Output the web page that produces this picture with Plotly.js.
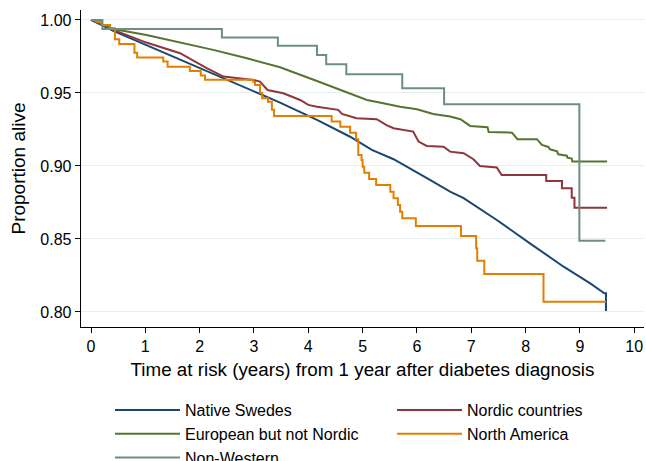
<!DOCTYPE html>
<html><head><meta charset="utf-8">
<script src="https://cdn.plot.ly/plotly-3.0.1.min.js"></script>
<style>html,body{margin:0;padding:0;background:#fff}#chart{width:646px;height:461px}</style>
</head><body><div id="chart"></div>
<script>
const seriesNames = ["Native Swedes", "Nordic countries", "European but not Nordic", "North America", "Non-Western"];
const seriesColors = ["#1a476f", "#90353b", "#55752f", "#e37e00", "#6e8e84"];

const tNative = [0, 0.41, 1.02, 1.64, 2.25, 2.87, 3.48, 4.16, 4.77, 5.17, 5.57, 6.24, 6.61, 6.86, 7.47, 8.08, 8.70, 9.19, 9.37, 9.45, 9.48, 9.48, 9.5];
const sNative = [1.0, 0.9925, 0.9827, 0.9728, 0.963, 0.9532, 0.9434, 0.9315, 0.920, 0.911, 0.9046, 0.8904, 0.8824, 0.8779, 0.863, 0.847, 0.831, 0.8196, 0.815, 0.8128, 0.8128, 0.8014, 0.8014];

const tNordic = [0, 0.41, 1.02, 1.64, 2.13, 2.44, 2.99, 3.11, 3.25, 3.54, 3.85, 4.0, 4.16, 4.55, 4.62, 4.89, 5.26, 5.44, 5.57, 5.93, 6.03, 6.18, 6.49, 6.61, 6.86, 7.04, 7.16, 7.47, 7.56, 8.38, 8.38, 8.67, 8.67, 8.85, 8.85, 8.90, 8.90, 9.5];
const sNordic = [1.0, 0.9932, 0.9845, 0.9772, 0.967, 0.9612, 0.9589, 0.9578, 0.952, 0.9498, 0.9452, 0.9418, 0.9406, 0.9384, 0.9356, 0.9327, 0.932, 0.928, 0.9258, 0.9235, 0.9167, 0.9137, 0.9132, 0.9098, 0.9087, 0.9046, 0.900, 0.899, 0.8938, 0.8938, 0.8897, 0.8897, 0.8847, 0.8847, 0.8783, 0.8783, 0.8714, 0.8714];

const tEurope = [0, 0.41, 1.02, 1.64, 2.25, 2.87, 3.48, 4.16, 4.77, 5.08, 5.38, 5.69, 6.0, 6.30, 6.61, 6.80, 6.98, 7.30, 7.32, 7.75, 7.85, 8.21, 8.30, 8.42, 8.45, 8.58, 8.60, 8.76, 8.77, 8.85, 8.86, 9.5];
const sEurope = [1.0, 0.9938, 0.9897, 0.9847, 0.9795, 0.9737, 0.9676, 0.9582, 0.9498, 0.9452, 0.943, 0.9406, 0.9388, 0.9356, 0.9338, 0.932, 0.9274, 0.9265, 0.9233, 0.9228, 0.9183, 0.9183, 0.9144, 0.913, 0.9114, 0.910, 0.908, 0.907, 0.9057, 0.905, 0.903, 0.903];

const tNorthAm = [0, 0.10, 0.20, 0.35, 0.44, 0.52, 0.80, 0.85, 1.33, 1.41, 1.82, 2.02, 2.10, 2.99, 3.02, 3.11, 3.15, 3.26, 3.33, 3.37, 4.43, 4.59, 4.77, 4.88, 4.92, 4.98, 5.0, 5.03, 5.12, 5.25, 5.51, 5.57, 5.65, 5.69, 5.73, 5.98, 6.81, 7.09, 7.11, 7.24, 8.33, 9.48];
const sNorthAm = [1.0, 0.9988, 0.9966, 0.9943, 0.9868, 0.9836, 0.9776, 0.9742, 0.9715, 0.968, 0.9651, 0.9619, 0.959, 0.9575, 0.9555, 0.9502, 0.9463, 0.944, 0.9384, 0.9342, 0.9304, 0.9269, 0.9228, 0.9183, 0.9075, 0.904, 0.8995, 0.8954, 0.8911, 0.887, 0.8824, 0.8779, 0.8733, 0.8687, 0.8642, 0.8589, 0.852, 0.8436, 0.835, 0.826, 0.807, 0.807];

const tNonWest = [0, 0.21, 2.41, 3.44, 4.16, 4.33, 4.70, 5.73, 6.50, 8.99, 9.47];
const sNonWest = [1.0, 0.9938, 0.988, 0.9824, 0.976, 0.9697, 0.9628, 0.9532, 0.9422, 0.8488, 0.8488];

const xTicks = [0, 1, 2, 3, 4, 5, 6, 7, 8, 9, 10];
const yTicks = [0.80, 0.85, 0.90, 0.95, 1.00];
const yTickLabels = ["0.80", "0.85", "0.90", "0.95", "1.00"];

const xs = [tNative, tNordic, tEurope, tNorthAm, tNonWest];
const ys = [sNative, sNordic, sEurope, sNorthAm, sNonWest];
const shapes = ["linear", "linear", "linear", "hv", "hv"];

const traces = seriesNames.map((n, i) => ({
  type: "scatter", mode: "lines", name: n, x: xs[i], y: ys[i],
  line: {color: seriesColors[i], width: 2, shape: shapes[i]}
}));

const font = "Liberation Sans, Arial, sans-serif";
const layout = {
  width: 646, height: 461,
  margin: {l: 81, r: 2, t: 10, b: 134, autoexpand: false},
  paper_bgcolor: "#fff", plot_bgcolor: "#fff",
  font: {family: font, size: 16, color: "#000"},
  showlegend: true,
  xaxis: {
    range: [-0.184, 10.18], tickvals: xTicks, ticktext: xTicks.map(String),
    ticks: "outside", ticklen: 5, tickcolor: "#000", tickwidth: 1,
    showline: true, linecolor: "#000", linewidth: 1, showgrid: false, zeroline: false,
    tickfont: {size: 16}, automargin: false,
    title: {text: "Time at risk (years) from 1 year after diabetes diagnosis", font: {size: 18.8}, standoff: 8}
  },
  yaxis: {
    range: [0.7897, 1.0068], tickvals: yTicks, ticktext: yTickLabels,
    ticks: "outside", ticklen: 5, tickcolor: "#000", tickwidth: 1,
    showline: true, linecolor: "#000", linewidth: 1.3, showgrid: true, gridcolor: "#e6eef0", gridwidth: 1, zeroline: false,
    tickfont: {size: 16}, automargin: false,
    title: {text: "Proportion alive", font: {size: 19}, standoff: 9}
  },
  legend: {
    orientation: "h", xref: "container", yref: "container", x: 110/646, y: 1 - 393/461,
    xanchor: "left", yanchor: "top", entrywidth: 202, itemwidth: 65,
    font: {size: 16}, bgcolor: "rgba(0,0,0,0)", traceorder: "normal"
  }
};
Plotly.newPlot("chart", traces, layout, {displayModeBar: false, staticPlot: true});
</script></body></html>
